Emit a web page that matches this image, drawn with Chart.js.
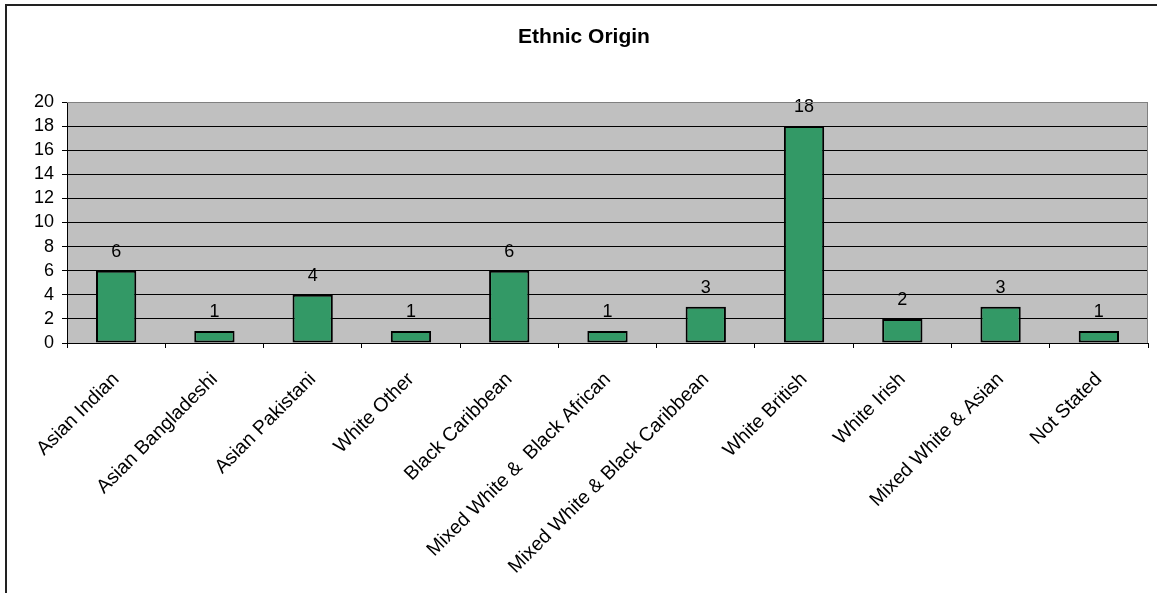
<!DOCTYPE html>
<html>
<head>
<meta charset="utf-8">
<script src="https://cdn.jsdelivr.net/npm/chart.js@4/dist/chart.umd.min.js"></script>
<style>
  html, body { margin: 0; padding: 0; background: #fff; }
  #wrap { position: relative; width: 1157px; height: 593px; }
</style>
</head>
<body>
<div id="wrap"><canvas id="c" width="1157" height="593"></canvas></div>
<script>
// Ethnic origin counts
const chartTitle = 'Ethnic Origin';
const categories = [
  'Asian Indian',
  'Asian Bangladeshi',
  'Asian Pakistani',
  'White Other',
  'Black Caribbean',
  'Mixed White &  Black African',
  'Mixed White & Black Caribbean',
  'White British',
  'White Irish',
  'Mixed White & Asian',
  'Not Stated'
];
const counts = [6, 1, 4, 1, 6, 1, 3, 18, 2, 3, 1];
const yMin = 0;
const yMax = 20;
const yStep = 2;

const FONT = '"Liberation Sans", Arial, sans-serif';

// Grey plot background, frame lines and the chart title
const framePlugin = {
  id: 'frame',
  beforeDraw(chart) {
    const { ctx, chartArea: a } = chart;
    ctx.save();
    ctx.fillStyle = '#fff';
    ctx.fillRect(0, 0, chart.width, chart.height);
    ctx.fillStyle = '#C0C0C0';
    ctx.fillRect(a.left, a.top, a.right - a.left, a.bottom - a.top);
    // outer frame (top and left edges)
    ctx.strokeStyle = '#222';
    ctx.lineWidth = 2;
    ctx.beginPath();
    ctx.moveTo(6, chart.height);
    ctx.lineTo(6, 5);
    ctx.lineTo(chart.width, 5);
    ctx.stroke();
    // title
    ctx.fillStyle = '#000';
    ctx.font = 'bold 21px ' + FONT;
    ctx.textAlign = 'center';
    ctx.textBaseline = 'middle';
    ctx.fillText(chartTitle, 584, 37);
    ctx.restore();
  },
  afterDraw(chart) {
    const { ctx, chartArea: a } = chart;
    ctx.save();
    ctx.strokeStyle = '#808080';
    ctx.lineWidth = 1;
    ctx.beginPath();
    ctx.moveTo(a.left, a.top + 0.5);
    ctx.lineTo(a.right - 0.5, a.top + 0.5);
    ctx.lineTo(a.right - 0.5, a.bottom);
    ctx.stroke();
    ctx.restore();
  }
};

// Value labels above each bar
const valueLabels = {
  id: 'valueLabels',
  afterDatasetsDraw(chart) {
    const { ctx } = chart;
    const meta = chart.getDatasetMeta(0);
    ctx.save();
    ctx.fillStyle = '#000';
    ctx.font = '18px ' + FONT;
    ctx.textAlign = 'center';
    ctx.textBaseline = 'middle';
    meta.data.forEach((bar, i) => {
      ctx.fillText(String(counts[i]), bar.x, bar.y - 19);
    });
    ctx.restore();
  }
};

new Chart(document.getElementById('c'), {
  type: 'bar',
  data: {
    labels: categories,
    datasets: [{
      data: counts,
      backgroundColor: '#339966',
      borderColor: '#000',
      borderWidth: 2,
      borderSkipped: false,
      barPercentage: 0.41,
      categoryPercentage: 1
    }]
  },
  options: {
    responsive: false,
    animation: false,
    events: [],
    layout: { padding: { top: 102, right: 9, bottom: 0, left: 0 } },
    plugins: {
      legend: { display: false },
      title: { display: false },
      tooltip: { enabled: false }
    },
    scales: {
      x: {
        offset: true,
        grid: {
          offset: true,
          drawOnChartArea: false,
          drawTicks: true,
          tickLength: 5,
          color: '#000'
        },
        border: { color: '#000', width: 1 },
        ticks: {
          autoSkip: false,
          minRotation: 45,
          maxRotation: 45,
          padding: 20,
          color: '#000',
          font: { family: FONT, size: 19.5 }
        },
        afterFit(scale) { scale.height = 250; }
      },
      y: {
        min: yMin,
        max: yMax,
        grid: {
          color: (c) => (c.tick && c.tick.value === yMax ? '#808080' : '#000'),
          tickColor: '#000',
          tickLength: 5,
          lineWidth: 1
        },
        border: { color: '#000', width: 1 },
        ticks: {
          stepSize: yStep,
          autoSkip: false,
          padding: 8,
          color: '#000',
          font: { family: FONT, size: 18 }
        },
        afterFit(scale) { scale.width = 67; }
      }
    }
  },
  plugins: [framePlugin, valueLabels]
});
</script>
</body>
</html>
